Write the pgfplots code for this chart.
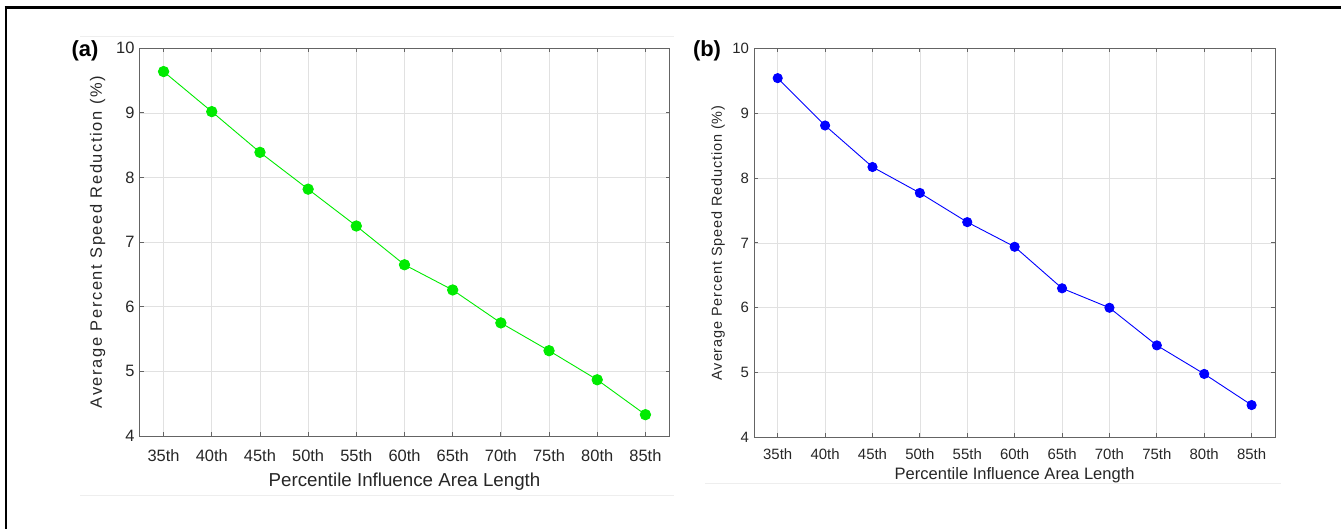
\documentclass[border=0pt]{standalone}
\usepackage{pgfplots}
\pgfplotsset{compat=1.18}
\usepackage{fontspec}
\setmainfont{Liberation Sans}
\newfontfamily\spacedA[LetterSpace=10]{Liberation Sans}
\newfontfamily\spacedB[LetterSpace=6]{Liberation Sans}

\definecolor{axgray}{RGB}{100,100,100}
\definecolor{txtgray}{RGB}{38,38,38}
\definecolor{gridgray}{RGB}{225,225,225}
\definecolor{faint}{RGB}{238,238,238}
\definecolor{mgreen}{RGB}{0,235,0}
\definecolor{mblue}{RGB}{0,0,255}

\pgfplotsset{
  panel/.style={
    scale only axis,
    xmin=-0.5, xmax=10.5, ymin=4, ymax=10,
    xtick={0,...,10},
    xticklabels={35th,40th,45th,50th,55th,60th,65th,70th,75th,80th,85th},
    ytick={4,...,10},
    grid=major,
    grid style={gridgray, line width=0.7bp},
    axis line style={axgray, line width=0.9bp},
    tick align=inside,
    major tick length=4bp,
    tick style={axgray, line width=0.9bp},
    ticklabel style={txtgray},
    yticklabel style={xshift=-1.5bp},
    xticklabel style={anchor=center},
    /pgf/number format/assume math mode=true,
    label style={txtgray, anchor=center},
  }
}

\begin{document}
\begin{tikzpicture}
\path[use as bounding box] (0,0) rectangle (1341bp,529bp);
% frame
\draw[black, line width=2.6bp] (6bp,0) -- (6bp,521.5bp);
\draw[black, line width=3bp] (4.7bp,521.5bp) -- (1341bp,521.5bp);
% faint separators
\draw[faint, line width=0.8bp] (80bp,493bp) -- (674bp,493bp);
\draw[faint, line width=0.8bp] (80bp,34bp) -- (674bp,34bp);
\draw[faint, line width=0.8bp] (705bp,46bp) -- (1281bp,46bp);

% (a)
\begin{axis}[panel,
  at={(139.5bp,93bp)}, anchor=south west,
  width=530bp, height=387.7bp,
  ticklabel style={font=\fontsize{16.5}{19}\selectfont},
  xticklabel style={yshift=-19.7bp},
  xlabel={Percentile Influence Area Length},
  ylabel={Average Percent Speed Reduction (\%)},
  xlabel style={at={(axis description cs:0.5,-0.117)}, font=\fontsize{18.8}{21}\selectfont},
  ylabel style={at={(axis description cs:-0.0792,0.5)}, font=\spacedA\fontsize{16.5}{19}\selectfont},
]
\addplot[mgreen, line width=0.9bp, mark=*, mark size=5.2bp, mark options={fill=mgreen, draw=mgreen}]
coordinates {(0,9.64) (1,9.02) (2,8.39) (3,7.82) (4,7.25) (5,6.65) (6,6.26) (7,5.75) (8,5.32) (9,4.87) (10,4.33)};
\end{axis}

% (b)
\begin{axis}[panel,
  at={(754bp,91.5bp)}, anchor=south west,
  width=521.3bp, height=389.2bp,
  ticklabel style={font=\fontsize{15}{18}\selectfont},
  xticklabel style={yshift=-16.5bp},
  xlabel={Percentile Influence Area Length},
  ylabel={Average Percent Speed Reduction (\%)},
  xlabel style={at={(axis description cs:0.5,-0.0964)}, font=\fontsize{16.6}{19}\selectfont},
  ylabel style={at={(axis description cs:-0.069,0.5)}, font=\spacedB\fontsize{14.5}{17}\selectfont},
]
\addplot[mblue, line width=0.9bp, mark=*, mark size=4.6bp, mark options={fill=mblue, draw=mblue}]
coordinates {(0,9.54) (1,8.81) (2,8.17) (3,7.77) (4,7.32) (5,6.94) (6,6.30) (7,6.00) (8,5.42) (9,4.98) (10,4.50)};
\end{axis}

\node[font=\bfseries\fontsize{22}{24}\selectfont, black] at (85bp,478bp) {(a)};
\node[font=\bfseries\fontsize{22}{24}\selectfont, black] at (707bp,478bp) {(b)};
\end{tikzpicture}
\end{document}
